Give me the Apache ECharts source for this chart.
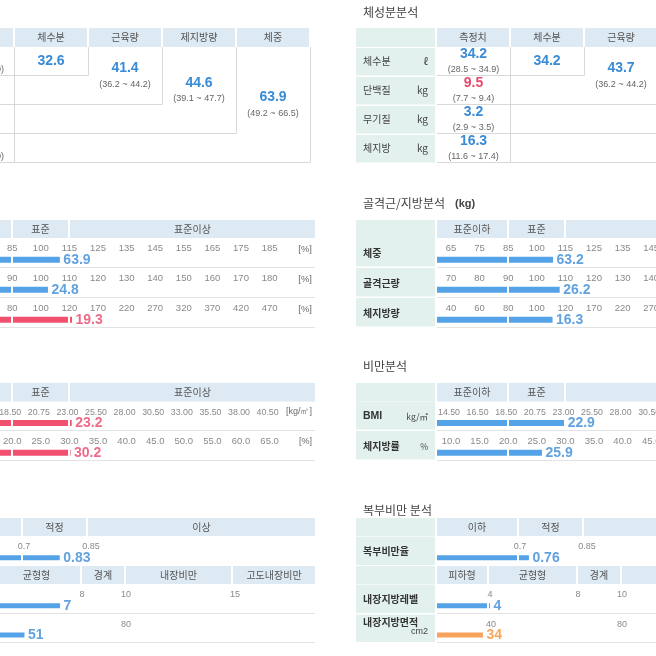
<!DOCTYPE html>
<html><head><meta charset="utf-8">
<script src="https://cdn.jsdelivr.net/npm/echarts@6/dist/echarts.min.js"></script>
<style>html,body{margin:0;padding:0;background:#fff}#c{width:656px;height:656px}</style>
</head><body><div id="c"></div>
<script>
// ================= DATA =================
const compNames = ['체수분','근육량','제지방량','체중'];
const measureHeader = '측정치';
const measureNames = ['체수분','단백질','무기질','체지방'];
const measureUnits = ['ℓ','kg','kg','kg'];

// right-hand report
const R_measureValues = ['34.2','9.5','3.2','16.3'];
const R_measureRanges = ['(28.5 ~ 34.9)','(7.7 ~ 9.4)','(2.9 ~ 3.5)','(11.6 ~ 17.4)'];
const R_measureStatus = ['normal','high','normal','normal'];
const R_compValues = ['34.2','43.7',null,null];
const R_compRanges = ['','(36.2 ~ 44.2)','',''];
// left-hand report (cropped)
const L_measureTails = ['0)','','','0)'];
const L_compValues = ['32.6','41.4','44.6','63.9'];
const L_compRanges = ['','(36.2 ~ 44.2)','(39.1 ~ 47.7)','(49.2 ~ 66.5)'];

const levelHeaders = ['표준이하','표준','표준이상'];
const mfNames = ['체중','골격근량','체지방량'];
const mfTicks = [
  ['65','75','85','100','115','125','135','145','155','165','175','185'],
  ['70','80','90','100','110','120','130','140','150','160','170','180'],
  ['40','60','80','100','120','170','220','270','320','370','420','470']];
const mfUnit = '[%]';
const R_mfValues = ['63.2','26.2','16.3'];
const R_mfPercent = [108.5, 108, 111];
const R_mfStatus = ['normal','normal','normal'];
const L_mfValues = ['63.9','24.8','19.3'];
const L_mfPercent = [110, 102.5, 124.5];
const L_mfStatus = ['normal','normal','high'];

const obNames = ['BMI','체지방률'];
const obUnits = ['kg/㎡','%'];
const obTicks = [
  ['14.50','16.50','18.50','20.75','23.00','25.50','28.00','30.50','33.00','35.50','38.00','40.50'],
  ['10.0','15.0','20.0','25.0','30.0','35.0','40.0','45.0','50.0','55.0','60.0','65.0']];
const obTickUnits = ['[kg/㎡]','[%]'];
const R_obValues = [22.9, 25.9];
const R_obStatus = ['normal','normal'];
const L_obValues = [23.2, 30.2];
const L_obStatus = ['high','high'];

const abdHeaders1 = ['이하','적정','이상'];
const abdHeaders2 = ['피하형','균형형','경계','내장비만','고도내장비만'];
const abdNames = ['복부비만율','내장지방레벨','내장지방면적'];
const abdUnits = ['','','cm2'];
const abdTicks = [['0.7','0.85'],['4','8','10','15'],['40','80']];
const R_abdValues = ['0.76','4','34'];
const R_abdBar = [0.72, 4, 34];
const R_abdStatus = ['normal','normal','warn'];
const L_abdValues = ['0.83','7','51'];
const L_abdBar = [0.78, 7, 49];
const L_abdStatus = ['normal','normal','normal'];

// ================= STYLE / LAYOUT =================
const KR = '"Noto Sans CJK KR", "Noto Sans", sans-serif';
const NUM = '"Liberation Sans", Arial, sans-serif';
const TEAL = '#e3f1ee', BLUE = '#dde9f3', LINE = '#d8d8d8', SEP = '#e3e3e3';
const BAR = {normal:'#54a3e9', high:'#f1506f', warn:'#f7a25a'};
const TXT = {normal:'#3a8bd6', high:'#e8466b', warn:'#f29233'};
const TICK_COLOR = '#6a6a6a';
const TITLE_FONT = '12px ' + KR;
const HDR_FONT = '10px ' + KR;
const LBL_FONT = '10px ' + KR;
const LBLB_FONT = 'bold 10px ' + KR;
const VAL_FONT = 'bold 14px ' + NUM;
const RNG_FONT = '9px ' + NUM;
const TX = 356, TW = 79, VX = 437, VW = 374, STEP = 28.6;

const G = [];
function rect(x,y,w,h,fill){G.push({type:'rect',silent:true,z:0,shape:{x,y,width:w,height:h},style:{fill}});}
function hline(x1,x2,y,c){G.push({type:'line',silent:true,z:1,shape:{x1,y1:y,x2,y2:y},style:{stroke:c,lineWidth:1}});}
function vline(x,y1,y2,c){G.push({type:'line',silent:true,z:1,shape:{x1:x,y1,x2:x,y2},style:{stroke:c,lineWidth:1}});}
function txt(x,y,s,font,color,align){
  G.push({type:'text',silent:true,z:1,x,y,style:{text:s,font,fill:color||'#444',
    align:align||'left',verticalAlign:'middle',textAlign:align||'left',textVerticalAlign:'middle'}});
}
function interp(v, vals, pos){
  let i = 0;
  while (i < vals.length-2 && v > vals[i+1]) i++;
  return pos[i] + (v - vals[i]) * (pos[i+1]-pos[i]) / (vals[i+1]-vals[i]);
}

const grids=[], xAxes=[], yAxes=[], series=[];
function barRow(off, top, h, ticks, tickPos, tickAlign, tickSize, barPos, valueText, status, bounds, barW){
  const k = grids.length;
  grids.push({left: VX+off, top: top, width: VW, height: h-1, containLabel:false, outerBoundsMode:'none'});
  xAxes.push({type:'value', gridIndex:k, min:0, max:VW, show:false});
  yAxes.push({type:'category', gridIndex:k, data:['bar','tick'], show:false});
  // the bar, with white dividers at the range boundaries
  series.push({type:'bar', xAxisIndex:k, yAxisIndex:k, barWidth:barW, z:2, silent:true,
    data:[barPos], itemStyle:{color:BAR[status]},
    markLine:{silent:true, symbol:['none','none'], animation:false, label:{show:false},
      lineStyle:{color:'#ffffff', width:2, type:'solid', opacity:1},
      data: bounds.map(b=>({xAxis:b}))}
  });
  // value label at the bar end (on top of the dividers)
  series.push({type:'scatter', xAxisIndex:k, yAxisIndex:k, z:12, symbolSize:1, silent:true,
    itemStyle:{color:'rgba(0,0,0,0)'},
    data:[{name:valueText, value:[barPos,'bar']}],
    label:{show:true, position:'right', distance:3, formatter:'{b}',
      color:TXT[status], fontFamily:NUM, fontSize:14, fontWeight:'bold'}
  });
  // tick labels
  series.push({type:'scatter', xAxisIndex:k, yAxisIndex:k, z:10, symbolSize:1, silent:true,
    itemStyle:{color:'rgba(0,0,0,0)'},
    data: ticks.map((t,i)=>({name:t, value:[tickPos[i],'tick']})),
    label:{show:true, position:'inside', align:tickAlign, formatter:'{b}',
      color:TICK_COLOR, fontFamily:NUM, fontSize:tickSize, offset:[0,3.5]}
  });
}
function header(off, y, h, cells, labels){
  rect(TX+off, y, TW, h, TEAL);
  cells.forEach((c,i)=>{
    rect(c[0]+off, y, c[1]-c[0], h, BLUE);
    txt((c[0]+c[1])/2+off, y+h/2, labels[i], HDR_FONT, '#555', 'center');
  });
}

function drawReport(off, d){
  const X = v => v + off;
  // ---------- 체성분분석 ----------
  txt(X(363), 12, '체성분분석', TITLE_FONT, '#444');
  rect(X(TX), 28, TW, 19, TEAL);
  rect(X(437), 28, 72, 19, BLUE);
  txt(X(473), 37.5, measureHeader, HDR_FONT, '#555', 'center');
  compNames.forEach((n,j)=>{
    rect(X(511+74*j), 28, 72, 19, BLUE);
    txt(X(547+74*j), 37.5, n, HDR_FONT, '#555', 'center');
  });
  const tops = [47,76,105,134];
  tops.forEach((t,i)=>{
    rect(X(TX), t+1, TW, 27.5, TEAL);
    txt(X(363), t+14.5, measureNames[i], LBL_FONT, '#444');
    txt(X(428), t+14.5, measureUnits[i], LBL_FONT, '#444', 'right');
    if (d.measureValues) {
      txt(X(473.5), t+7, d.measureValues[i], VAL_FONT, TXT[d.measureStatus[i]], 'center');
      txt(X(473.5), t+23, d.measureRanges[i], RNG_FONT, '#666', 'center');
    }
    if (d.measureTails && d.measureTails[i]) txt(X(500), t+23, d.measureTails[i], RNG_FONT, '#666', 'right');
  });
  const boxBottoms = [75.5,104.5,133.5,162.5];
  boxBottoms.forEach((yb,j)=>{
    hline(X(437), X(584+74*j), yb, LINE);
    vline(X(584.5+74*j), 47, yb, LINE);
  });
  vline(X(510.5), 47, 162.5, LINE);
  d.compValues.forEach((v,j)=>{
    if (v == null) return;
    const cx = 547+74*j, cy = (47+boxBottoms[j])/2, hasR = !!d.compRanges[j];
    txt(X(cx), hasR ? cy-7.5 : cy, v, VAL_FONT, TXT.normal, 'center');
    if (hasR) txt(X(cx), cy+8.5, d.compRanges[j], RNG_FONT, '#666', 'center');
  });

  // ---------- 골격근/지방분석 ----------
  txt(X(363), 203, '골격근/지방분석', TITLE_FONT, '#444');
  txt(X(455), 203.5, '(kg)', 'bold 11px '+NUM, '#444');
  const lvCells = [[437,507],[509,564],[566,811]];
  header(off, 220, 18, lvCells, levelHeaders);
  [238,268,298].forEach((t,i)=>{
    rect(X(TX), t, TW, 28.5, TEAL);
    txt(X(363), t+15, mfNames[i], LBLB_FONT, '#333');
    hline(X(437), X(811), t+29.5, SEP);
    const vals = mfTicks[i].map(Number), pos = vals.map((_,k)=>14+STEP*k);
    barRow(off, t, 30, mfTicks[i], pos, 'center', 9.5, interp(d.mfPercent[i], vals, pos),
      d.mfValues[i], d.mfStatus[i], [71,128], 6);
    txt(X(808), t+11, mfUnit, '9.5px '+NUM, TICK_COLOR, 'right');
  });

  // ---------- 비만분석 ----------
  txt(X(363), 366, '비만분석', TITLE_FONT, '#444');
  header(off, 383, 18.5, lvCells, levelHeaders);
  [[401.5,29.5],[431,30]].forEach((r,i)=>{
    const t = r[0], h = r[1];
    rect(X(TX), t, TW, h-1.5, TEAL);
    txt(X(363), t+h/2, obNames[i], i===0 ? 'bold 10.5px '+NUM : LBLB_FONT, '#333');
    txt(X(428), t+h/2+1, obUnits[i], '8.5px '+KR, '#444', 'right');
    hline(X(437), X(811), t+h-0.5, SEP);
    const vals = obTicks[i].map(Number), pos = vals.map((_,k)=>14+STEP*k);
    const labelPos = i===0 ? vals.map((_,k)=>STEP*k+1) : pos;
    barRow(off, t, h, obTicks[i], labelPos, i===0 ? 'left' : 'center', i===0 ? 8.8 : 9.5,
      interp(d.obValues[i], vals, pos), d.obValues[i].toFixed(1), d.obStatus[i], [71,128], 6);
    txt(X(808), t+10.5, obTickUnits[i], '9px '+NUM, TICK_COLOR, 'right');
  });

  // ---------- 복부비만 분석 ----------
  txt(X(363), 510, '복부비만 분석', TITLE_FONT, '#444');
  header(off, 518, 18, [[437,517],[519,582],[584,811]], abdHeaders1);
  header(off, 566, 18, [[437,487],[489,576],[578,620],[622,727],[729,811]], abdHeaders2);
  const abdRows = [[536,30],[584,30],[614,29]];
  const abdTickPos = [[83,150],[53,141,185,294],[54,185]];
  const abdBounds = [[81,146],[51,140,184,291],[51,140,184,291]];
  abdRows.forEach((r,i)=>{
    const t = r[0], h = r[1];
    rect(X(TX), t+0.5, TW, h-1.5, TEAL);
    if (abdUnits[i]) {
      txt(X(363), t+8, abdNames[i], LBLB_FONT, '#333');
      txt(X(428), t+18, abdUnits[i], '9px '+NUM, '#444', 'right');
    } else {
      txt(X(363), t+h/2, abdNames[i], LBLB_FONT, '#333');
    }
    if (i > 0) hline(X(437), X(811), t+h-0.5, SEP);
    const vals = [0].concat(abdTicks[i].map(Number)), pos = [0].concat(abdTickPos[i]);
    barRow(off, t, h, abdTicks[i], abdTickPos[i], 'center', 9,
      interp(d.abdBar[i], vals, pos), d.abdValues[i], d.abdStatus[i], abdBounds[i], 5);
  });
}

drawReport(0, {
  measureValues: R_measureValues, measureRanges: R_measureRanges, measureStatus: R_measureStatus,
  compValues: R_compValues, compRanges: R_compRanges,
  mfValues: R_mfValues, mfPercent: R_mfPercent, mfStatus: R_mfStatus,
  obValues: R_obValues, obStatus: R_obStatus,
  abdValues: R_abdValues, abdBar: R_abdBar, abdStatus: R_abdStatus
});
drawReport(-496, {
  measureTails: L_measureTails,
  compValues: L_compValues, compRanges: L_compRanges,
  mfValues: L_mfValues, mfPercent: L_mfPercent, mfStatus: L_mfStatus,
  obValues: L_obValues, obStatus: L_obStatus,
  abdValues: L_abdValues, abdBar: L_abdBar, abdStatus: L_abdStatus
});

const chart = echarts.init(document.getElementById('c'), null, {renderer:'canvas'});
chart.setOption({
  animation: false,
  backgroundColor: '#ffffff',
  grid: grids, xAxis: xAxes, yAxis: yAxes, series: series,
  graphic: G
});
</script>
</body></html>
